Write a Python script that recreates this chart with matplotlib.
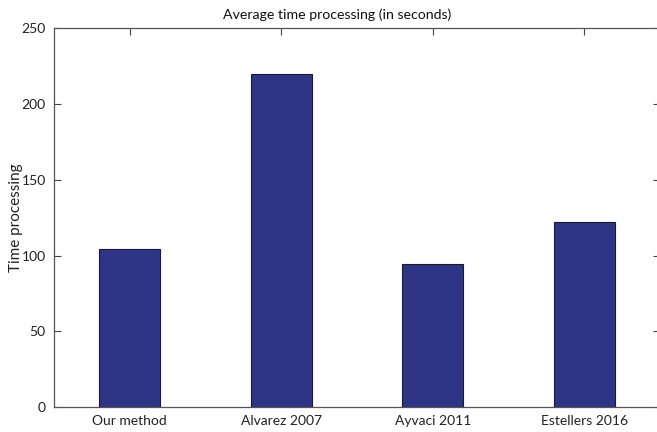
import matplotlib
matplotlib.use("Agg")
import matplotlib.pyplot as plt

categories = ["Our method", "Alvarez 2007", "Ayvaci 2011", "Estellers 2016"]
times = [104, 220, 94.5, 122]
yticks = [0, 50, 100, 150, 200, 250]

plt.rcParams['font.family'] = ['Lato', 'DejaVu Sans']

fig = plt.figure(figsize=(6.57, 4.32), dpi=100)
ax = fig.add_axes([54/657, (432-407)/432, (660-54)/657, (407-28.3)/432])

x = list(range(1, len(categories) + 1))
ax.bar(x, times, width=0.4, color="#2E3586", edgecolor="#1a1a2e", linewidth=0.8, zorder=2)

ax.set_xlim(0.5, 4.5)
ax.set_ylim(0, 250)
ax.set_xticks(x)
ax.set_xticklabels(categories, fontsize=10, color="#222222")
ax.set_yticks(yticks)
ax.set_yticklabels([str(t) for t in yticks], fontsize=10, color="#222222")
ax.tick_params(direction="in", length=5, width=0.8, color="#444444", top=True, right=True, pad=6)
for s in ax.spines.values():
    s.set_color("#555555")
    s.set_linewidth(0.9)
ax.set_ylabel("Time processing", fontsize=11, color="#222222")
ax.yaxis.set_label_coords(-0.051, 0.5)
ax.set_title("Average time processing (in seconds)", fontsize=10.2, color="#111111",
             pad=7, x=(337.5 - 54) / 606)

fig.savefig("out.png", dpi=100)
